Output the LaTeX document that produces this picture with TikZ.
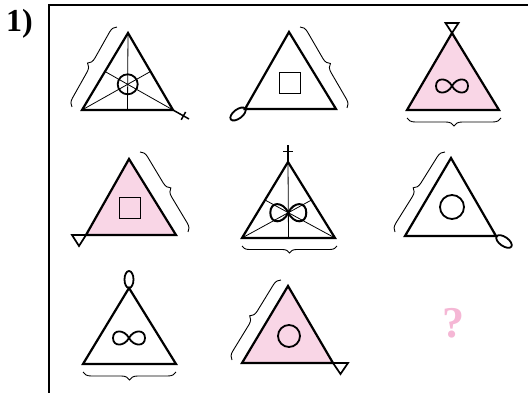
\documentclass[tikz,border=0pt]{standalone}
\usepackage{fontspec}
\newfontfamily\labelfont{Liberation Serif}
\usetikzlibrary{decorations.pathreplacing}
\definecolor{tripink}{RGB}{249,214,230}
\definecolor{qpink}{RGB}{245,183,213}
\tikzset{
  tri/.style={line width=2.2pt, line join=miter},
  medianline/.style={line width=0.8pt},
  sym/.style={line width=1.8pt},
  brc/.style={decorate, decoration={brace, amplitude=8pt}, line width=0.9pt},
  marktri/.style={line width=1.7pt, line join=miter},
}
% infinity sign: centre, half width, half height, line width
\newcommand\infsym[4]{\draw[line width=#4, shift={#1}, x=#2pt, y=#3pt]
  (0,0) .. controls (0.3,-1.35) and (1,-1.35) .. (1,0)
        .. controls (1,1.35) and (0.3,1.35) .. (0,0)
        .. controls (-0.3,-1.35) and (-1,-1.35) .. (-1,0)
        .. controls (-1,1.35) and (-0.3,1.35) .. (0,0) -- cycle;}
\begin{document}
\begin{tikzpicture}[x=1pt,y=-1pt]
\useasboundingbox (0,0) rectangle (528,393);
\fill[white] (0,0) rectangle (528,393);
% frame
\coordinate (fr) at (528,5);
\coordinate (fc) at (49,5);
\coordinate (fb) at (49,393);
\draw[line width=2pt] (fr) -- (fc) -- (fb);
\node[anchor=base west, inner sep=0, font=\labelfont\bfseries\fontsize{32}{32}\selectfont] (lbl) at (6,32) {1)};

% cell 1
\coordinate (a1) at (128,33); \coordinate (b1) at (82,110); \coordinate (c1) at (173,110);
\draw[medianline] (a1) -- (127.5,110);
\draw[medianline] (b1) -- (150.5,71.5);
\draw[medianline] (c1) -- (105,71.5);
\draw[tri] (a1) -- (b1) -- (c1) -- cycle;
\draw[sym] (127.7,84.3) circle[radius=10];
\draw[line width=1.5pt] (c1) -- (189,119);
\draw[line width=1.5pt] (181.2,119.8) -- (185.6,112);
\draw[brc] (72,107) -- (117,27);

% cell 2
\coordinate (a2) at (289,32); \coordinate (b2) at (245,109); \coordinate (c2) at (336,109);
\draw[tri] (a2) -- (b2) -- (c2) -- cycle;
\draw[sym] (279.5,72.5) rectangle (300.5,93.5);
\draw[sym, rotate around={37:(238,114)}] (238,114) ellipse[x radius=9, y radius=4.5];
\draw[brc] (300,27) -- (347,108);

% cell 3
\coordinate (a3) at (452,33); \coordinate (b3) at (407,110); \coordinate (c3) at (499,110);
\draw[tri, fill=tripink] (a3) -- (b3) -- (c3) -- cycle;
\infsym{(452,86)}{16}{6.5}{1.8pt}
\draw[marktri] (445.5,23) -- (458.5,23) -- (a3) -- cycle;
\draw[brc] (501,118) -- (407,118);

% cell 4
\coordinate (a4) at (129,159); \coordinate (b4) at (86,235); \coordinate (c4) at (176,235);
\draw[tri, fill=tripink] (a4) -- (b4) -- (c4) -- cycle;
\draw[sym] (119.5,197.5) rectangle (140.5,218.5);
\draw[marktri] (72,235) -- (b4) -- (79,246) -- cycle;
\draw[brc] (140,152) -- (188,232);

% cell 5
\coordinate (a5) at (288,162); \coordinate (b5) at (242,238); \coordinate (c5) at (335,238);
\draw[medianline] (a5) -- (288.5,238);
\draw[medianline] (b5) -- (311.5,200);
\draw[medianline] (c5) -- (265,200);
\draw[tri] (a5) -- (b5) -- (c5) -- cycle;
\infsym{(288.3,212.7)}{18}{8.5}{2pt}
\draw[line width=1.7pt] (a5) -- (288,145);
\draw[line width=1.7pt] (283,151.5) -- (293,151.5);
\draw[brc, decoration={amplitude=7pt}] (337,246) -- (242,246);

% cell 6
\coordinate (a6) at (451,158); \coordinate (b6) at (405,236); \coordinate (c6) at (496,236);
\draw[tri] (a6) -- (b6) -- (c6) -- cycle;
\draw[sym] (452,207) circle[radius=12];
\draw[sym, rotate around={-35:(504,241.5)}] (504,241.5) ellipse[x radius=9, y radius=4.5];
\draw[brc] (395,232) -- (445,152);

% cell 7
\coordinate (a7) at (129,288); \coordinate (b7) at (83,364); \coordinate (c7) at (176,364);
\draw[tri] (a7) -- (b7) -- (c7) -- cycle;
\infsym{(129,338)}{16}{6.5}{1.8pt}
\draw[sym] (129,279.5) ellipse[x radius=4.5, y radius=8.5];
\draw[brc] (176,372) -- (83,372);

% cell 8
\coordinate (a8) at (288,286); \coordinate (b8) at (242,363); \coordinate (c8) at (333,363);
\draw[tri, fill=tripink] (a8) -- (b8) -- (c8) -- cycle;
\draw[sym] (289,336) circle[radius=11];
\draw[marktri] (c8) -- (348,363) -- (340.5,374) -- cycle;
\draw[brc] (232,360) -- (281,280);

% cell 9
\node[anchor=base, inner sep=0, text=qpink, font=\labelfont\bfseries\fontsize{44}{44}\selectfont] (q) at (453,337) {?};
\end{tikzpicture}
\end{document}
